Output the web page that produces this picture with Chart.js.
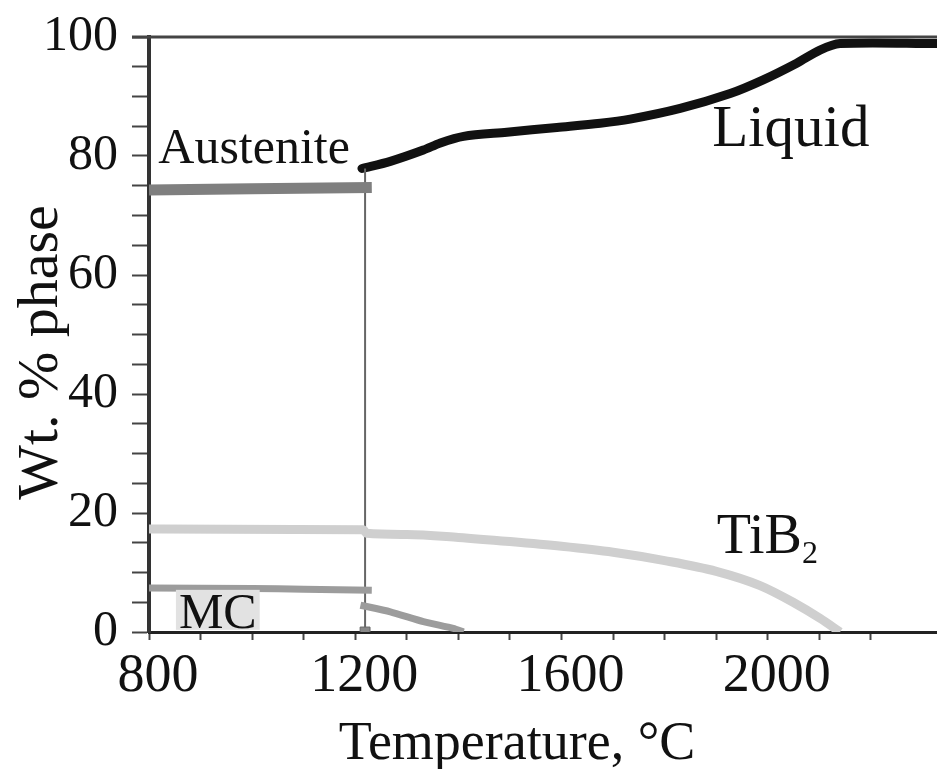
<!DOCTYPE html>
<html>
<head>
<meta charset="utf-8">
<script src="https://cdn.jsdelivr.net/npm/chart.js@4.4.0/dist/chart.umd.min.js"></script>
<style>
  html, body { margin: 0; padding: 0; background: #fff; }
  #wrap { width: 937px; height: 769px; position: relative; }
</style>
</head>
<body>
<div id="wrap"><canvas id="chart"></canvas></div>
<script>
// Phase fractions (temperature in °C, wt. %)
const liquidT = [1213, 1268, 1332, 1365, 1410, 1494, 1591, 1675, 1733, 1830, 1927, 1991, 2056, 2101, 2140, 2328];
const liquidWt = [77.9, 79.1, 81.0, 82.2, 83.3, 84.0, 84.8, 85.5, 86.2, 88.0, 90.5, 92.8, 95.6, 97.8, 98.9, 98.9];

const austeniteT = [800, 1000, 1232];
const austeniteWt = [74.3, 74.5, 74.7];

const tib2T = [800, 1215, 1222, 1300, 1400, 1500, 1600, 1700, 1800, 1900, 1985, 2049, 2101, 2140];
const tib2Wt = [17.3, 17.2, 16.6, 16.4, 15.9, 15.2, 14.4, 13.4, 12.0, 10.2, 7.8, 5.0, 2.3, 0];

const mcLowT = [800, 1000, 1100, 1232];
const mcLowWt = [7.4, 7.3, 7.2, 7.0];
const mcHighT = [1210, 1268, 1332, 1390, 1410];
const mcHighWt = [4.5, 3.4, 1.75, 0.6, 0];

const solidusT = [1219, 1219];
const solidusWt = [0, 77.9];

const xTickLabels = [800, 1200, 1600, 2000];
const yTickLabels = [0, 20, 40, 60, 80, 100];

const toPoints = (xs, ys) => xs.map((x, i) => ({ x: x, y: ys[i] }));

const serif = '"Liberation Serif", "Times New Roman", serif';

// free text in the plot (names of phases, axis titles)
const textPlugin = {
  id: 'figureText',
  afterDraw(chart) {
    const { ctx, chartArea: area, scales } = chart;
    const x = scales.x, y = scales.y;
    ctx.save();
    ctx.fillStyle = '#111';
    ctx.textBaseline = 'alphabetic';
    ctx.textAlign = 'left';

    ctx.font = '50px ' + serif;
    ctx.fillText('Austenite', x.getPixelForValue(818), y.getPixelForValue(78.8));

    ctx.font = '59px ' + serif;
    ctx.fillText('Liquid', x.getPixelForValue(1892), y.getPixelForValue(81.7));

    ctx.font = '56px ' + serif;
    const tx = x.getPixelForValue(1901), ty = y.getPixelForValue(13.3);
    ctx.fillText('TiB', tx, ty);
    const w = ctx.measureText('TiB').width;
    ctx.font = '32px ' + serif;
    ctx.fillText('2', tx + w, ty + 10);

    // MC label with its grey box
    ctx.font = '50px ' + serif;
    const mx = x.getPixelForValue(858), my = y.getPixelForValue(0.7);
    const mw = ctx.measureText('MC').width;
    ctx.fillStyle = '#e2e2e2';
    ctx.fillRect(mx - 3, my - 38, mw + 6, 40);
    ctx.fillStyle = '#111';
    ctx.fillText('MC', mx, my);

    // axis titles
    ctx.textAlign = 'center';
    ctx.font = '54px ' + serif;
    ctx.fillText('Temperature, \u00B0C', area.left + 368, area.bottom + 127);

    ctx.translate(area.left - 92, (area.top + area.bottom) / 2 + 18);
    ctx.rotate(-Math.PI / 2);
    ctx.font = '58px ' + serif;
    ctx.fillText('Wt. % phase', 0, 0);
    ctx.restore();

    // frame line along the top
    ctx.save();
    ctx.strokeStyle = '#444';
    ctx.lineWidth = 3;
    ctx.beginPath();
    ctx.moveTo(area.left - 17, area.top);
    ctx.lineTo(area.right, area.top);
    ctx.stroke();
    ctx.restore();
  }
};

new Chart(document.getElementById('chart'), {
  type: 'line',
  data: {
    datasets: [
      {
        label: 'TiB2',
        data: toPoints(tib2T, tib2Wt),
        borderColor: '#cfcfcf',
        borderWidth: 9,
        cubicInterpolationMode: 'monotone',
        pointRadius: 0
      },
      {
        label: 'MC',
        data: toPoints(mcLowT, mcLowWt),
        borderColor: '#9c9c9c',
        borderWidth: 7,
        tension: 0.2,
        pointRadius: 0
      },
      {
        label: 'MC (high T)',
        data: toPoints(mcHighT, mcHighWt),
        borderColor: '#9c9c9c',
        borderWidth: 7,
        tension: 0.2,
        pointRadius: 0
      },
      {
        label: 'Austenite',
        data: toPoints(austeniteT, austeniteWt),
        borderColor: '#7f7f7f',
        borderWidth: 11,
        tension: 0,
        pointRadius: 0
      },
      {
        label: 'Solidus',
        data: toPoints(solidusT, solidusWt),
        borderColor: '#666',
        borderWidth: 2,
        pointStyle: 'rect',
        pointRadius: [7, 0],
        pointBackgroundColor: '#888',
        pointBorderColor: '#666',
        pointBorderWidth: 1
      },
      {
        label: 'Liquid',
        data: toPoints(liquidT, liquidWt),
        borderColor: '#111',
        borderWidth: 9,
        borderCapStyle: 'round',
        borderJoinStyle: 'round',
        tension: 0.3,
        pointRadius: 0
      }
    ]
  },
  options: {
    responsive: true,
    maintainAspectRatio: false,
    animation: false,
    events: [],
    // the plot runs off the right edge of the figure
    layout: { autoPadding: false, padding: { top: 37, left: 0, right: 0, bottom: 0 } },
    plugins: {
      legend: { display: false },
      tooltip: { enabled: false }
    },
    scales: {
      x: {
        type: 'linear',
        min: 800,
        max: 2328,
        afterFit: (scale) => {
          scale.height = 137;
          scale.paddingLeft = 0;
          scale.paddingRight = 0;
        },
        afterBuildTicks: (scale) => {
          scale.ticks = scale.ticks.filter(t => t.value % 100 === 0);
        },
        ticks: {
          stepSize: 100,
          autoSkip: false,
          maxRotation: 0,
          padding: 4,
          labelOffset: 9,
          color: '#111',
          font: { family: serif, size: 54 },
          callback: (v) => xTickLabels.includes(v) ? String(v) : ''
        },
        grid: {
          drawOnChartArea: false,
          drawTicks: true,
          tickLength: 8,
          tickColor: '#444',
          tickWidth: 2
        },
        border: { display: true, color: '#222', width: 3 }
      },
      y: {
        min: 0,
        max: 100,
        afterFit: (scale) => {
          scale.width = 149;
          scale.paddingTop = 0;
          scale.paddingBottom = 0;
        },
        ticks: {
          stepSize: 5,
          autoSkip: false,
          padding: 14,
          color: '#111',
          font: { family: serif, size: 50 },
          callback: (v) => yTickLabels.includes(v) ? String(v) : ''
        },
        grid: {
          drawOnChartArea: false,
          drawTicks: true,
          tickLength: 17,
          tickColor: '#444',
          tickWidth: 2
        },
        border: { display: true, color: '#333', width: 4 }
      }
    }
  },
  plugins: [textPlugin]
});
</script>
</body>
</html>
